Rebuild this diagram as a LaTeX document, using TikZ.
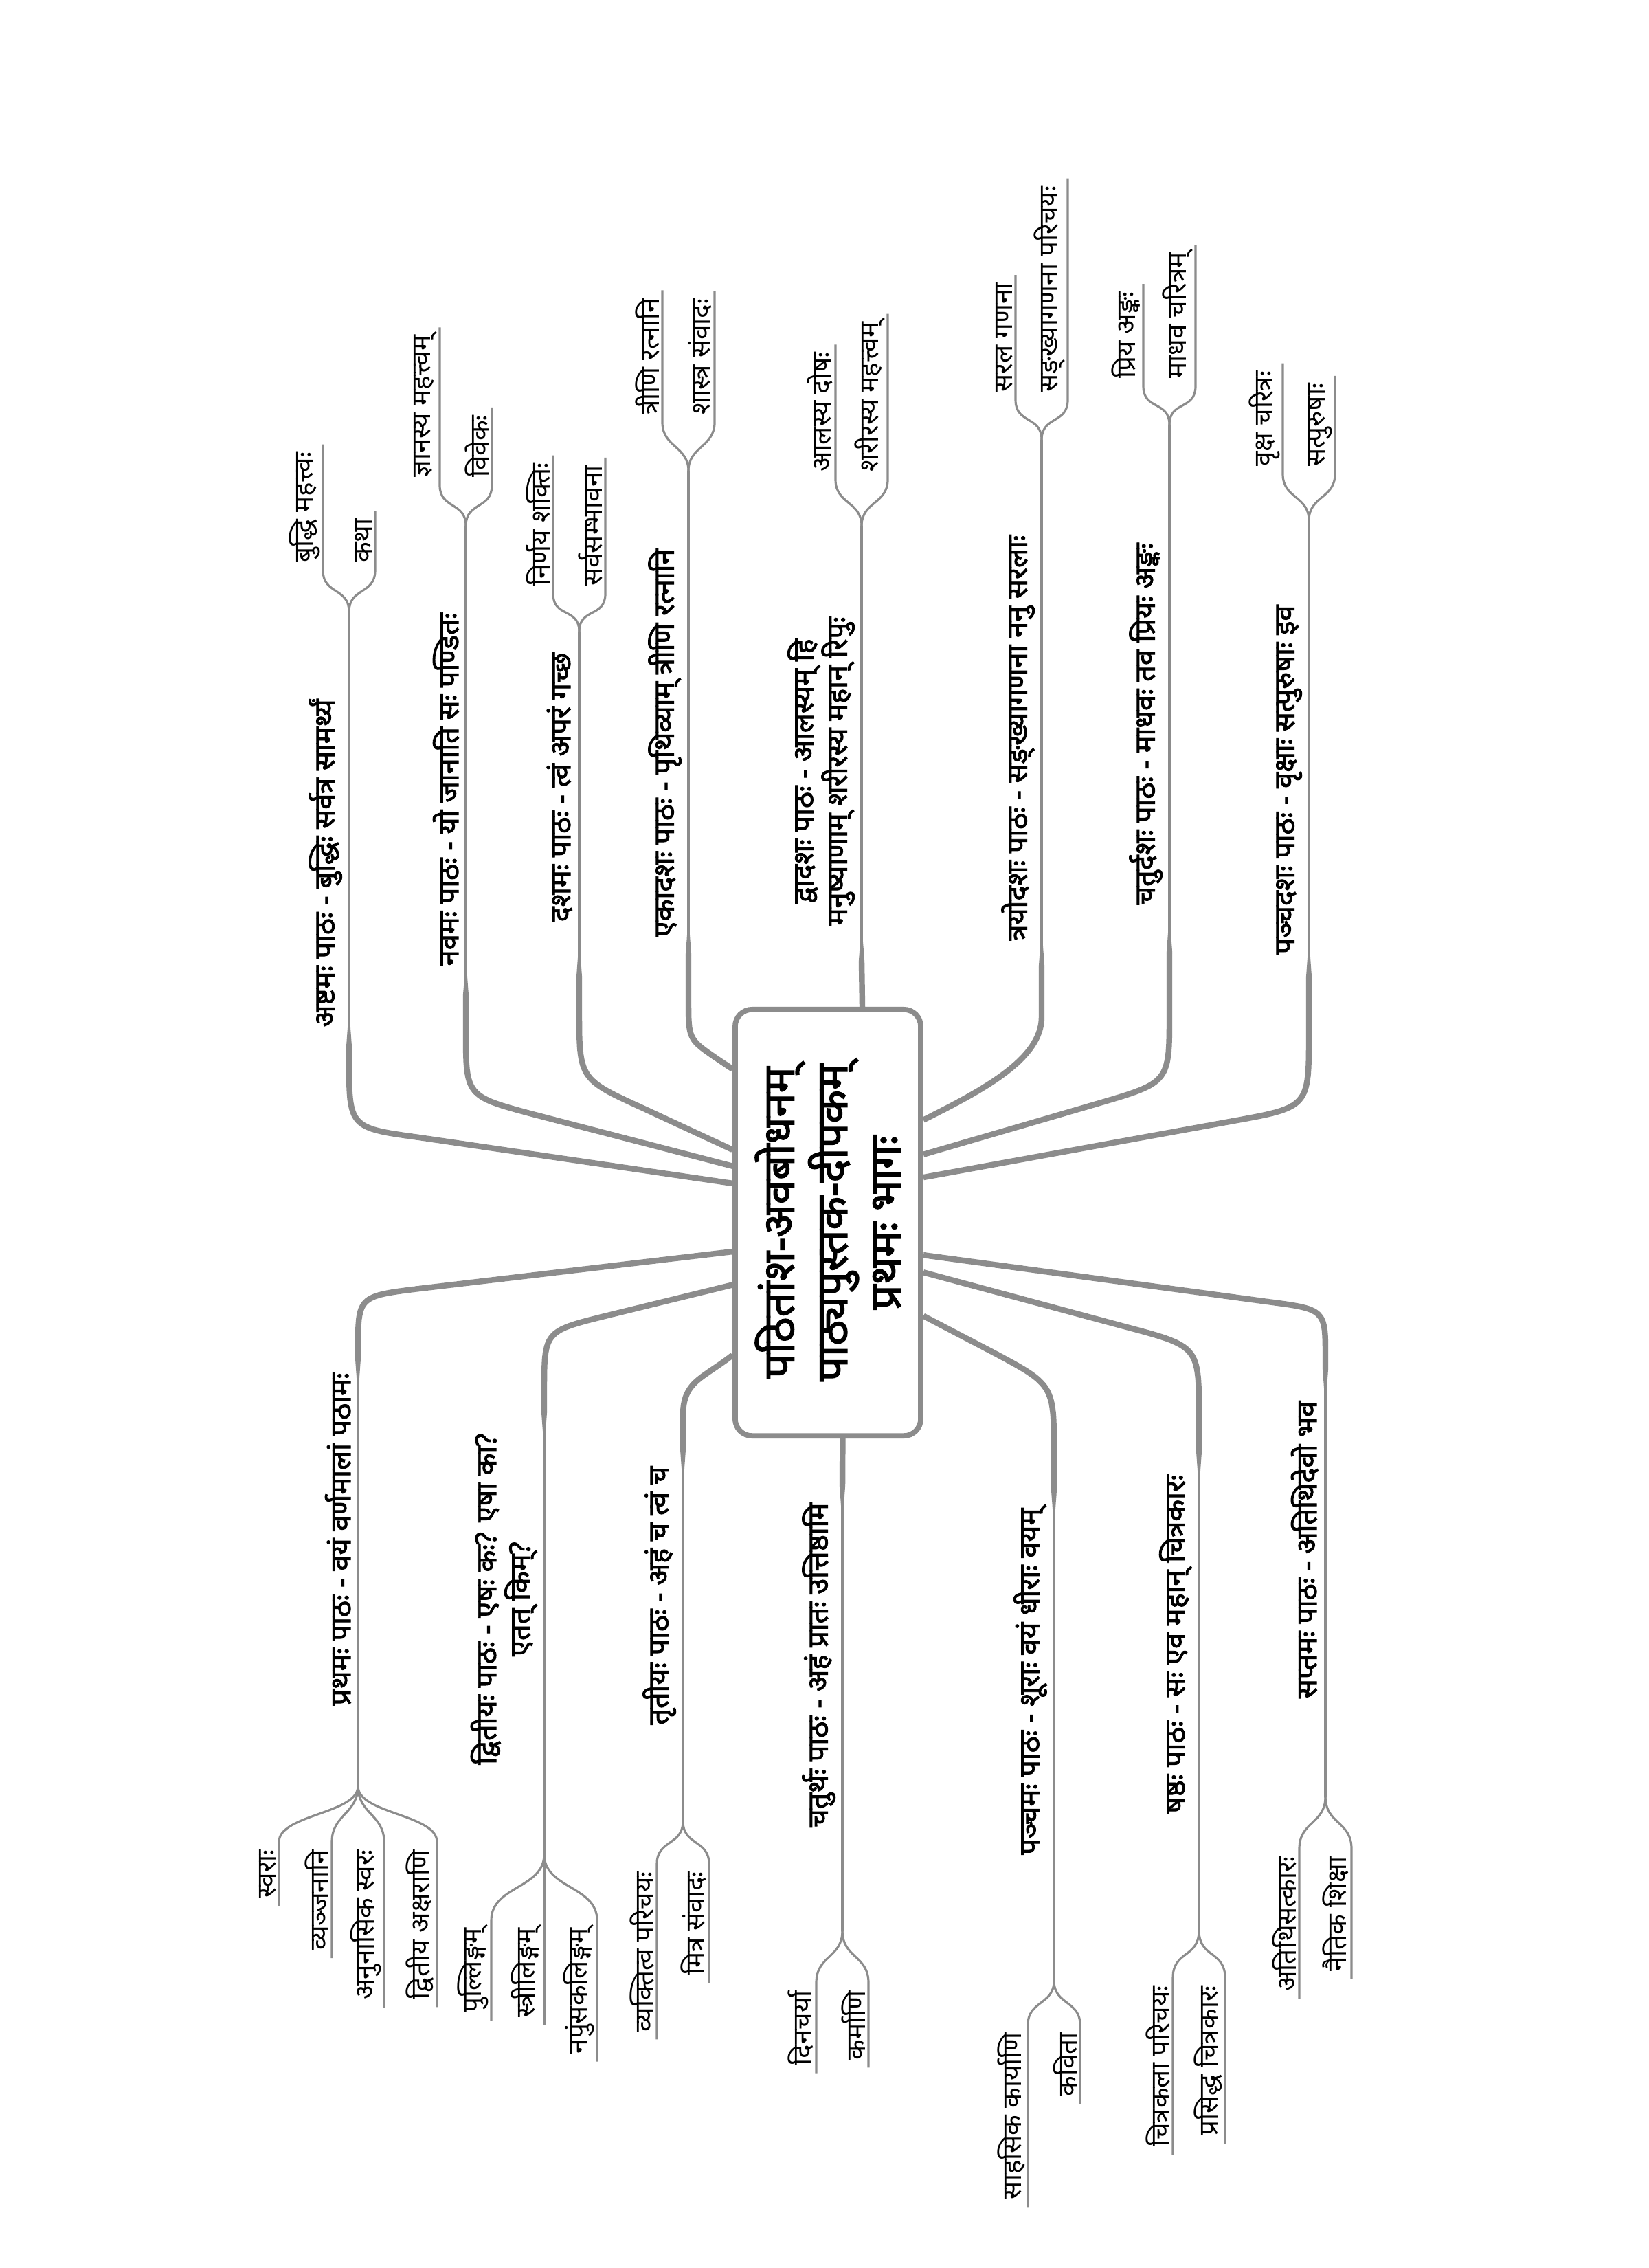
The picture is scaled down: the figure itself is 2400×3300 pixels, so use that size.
\documentclass[tikz,border=0pt]{standalone}
\usepackage{fontspec}
\setmainfont[Script=Devanagari]{Noto Sans}
\newfontfamily\heavy[Script=Devanagari,FakeBold=2.2]{Noto Sans}
\usetikzlibrary{calc,backgrounds}
\definecolor{linegray}{RGB}{140,140,140}

\begin{document}
\begin{tikzpicture}[x=0.01cm, y=-0.01cm,
  rootbox/.style={draw=linegray, line width=2.2pt, rounded corners=7pt, fill=white, rotate=90,
    minimum width=6.2cm, minimum height=2.7cm, align=center,
    font=\heavy\fontsize{18}{22}\selectfont},
  limb/.style={draw=linegray, line width=2.4pt},
  twig/.style={draw=linegray, line width=0.9pt},
  topic/.style={rotate=90, inner xsep=0pt, inner ysep=1pt, align=center,
    font=\heavy\fontsize{11.8}{14}\selectfont},
  leaf/.style={rotate=90, inner xsep=3pt, inner ysep=1pt, font=\fontsize{11}{13}\selectfont}]

\useasboundingbox (0,0) rectangle (2400,3300);

\node[rootbox] (root) at (1205,1779) {पठितांश-अवबोधनम्\\पाठ्यपुस्तक-दीपकम्\\प्रथमः भागः};

\begin{scope}[on background layer]
\fill[white] (0,0) rectangle (2400,3300);
\coordinate (a8) at ($(root.north east)!0.409!(root.north west)$);
\coordinate (a9) at ($(root.north east)!0.369!(root.north west)$);
\coordinate (a10) at ($(root.north east)!0.331!(root.north west)$);
\coordinate (a11) at ($(root.north east)!0.144!(root.north west)$);
\coordinate (a12) at ($(root.north east)!0.68!(root.south east)$);
\coordinate (a13) at ($(root.south east)!0.262!(root.south west)$);
\coordinate (a14) at ($(root.south east)!0.342!(root.south west)$);
\coordinate (a15) at ($(root.south east)!0.395!(root.south west)$);
\coordinate (a1) at ($(root.north east)!0.567!(root.north west)$);
\coordinate (a2) at ($(root.north east)!0.644!(root.north west)$);
\coordinate (a3) at ($(root.north east)!0.807!(root.north west)$);
\coordinate (a4) at ($(root.north west)!0.577!(root.south west)$);
\coordinate (a5) at ($(root.south east)!0.716!(root.south west)$);
\coordinate (a6) at ($(root.south east)!0.615!(root.south west)$);
\coordinate (a7) at ($(root.south east)!0.575!(root.south west)$);
\coordinate (t8) at (508,1525);
\coordinate (t9) at (678,1450);
\coordinate (t10) at (843,1423);
\coordinate (t11) at (1002,1390);
\coordinate (t12) at (1254,1400);
\coordinate (t13) at (1516,1407);
\coordinate (t14) at (1702,1387);
\coordinate (t15) at (1905,1423);
\coordinate (t1) at (521,1975);
\coordinate (t2) at (792,2053);
\coordinate (t3) at (994,2107);
\coordinate (t4) at (1226,2161);
\coordinate (t5) at (1534,2166);
\coordinate (t6) at (1745,2110);
\coordinate (t7) at (1929,1990);
\draw[limb] (a8) -- (610,1655) .. controls (508,1641) .. (508,1540) -- (t8);
\draw[limb] (a9) -- (775,1621) .. controls (678,1595) .. (678,1500) -- (t9);
\draw[limb] (a10) -- (935,1612) .. controls (843,1570) .. (843,1470) -- (t10);
\draw[limb] (a11) -- (1043,1540) .. controls (1002,1512) .. (1002,1455) -- (t11);
\draw[limb] (a12) -- (t12);
\draw[limb] (a13) .. controls +(90,-45) and +(0,60) .. (1516,1480) -- (t13);
\draw[limb] (a14) -- (1600,1605) .. controls (1702,1575) .. (1702,1475) -- (t14);
\draw[limb] (a15) -- (1795,1631) .. controls (1905,1611) .. (1905,1505) -- (t15);
\draw[limb] (a1) -- (610,1875) .. controls (521,1886) .. (521,1965) -- (t1);
\draw[limb] (a2) -- (880,1915) .. controls (792,1937) .. (792,2025) -- (t2);
\draw[limb] (a3) .. controls +(-45,35) and +(0,-50) .. (994,2060) -- (t3);
\draw[limb] (a4) -- (t4);
\draw[limb] (a5) -- (1446,1968) .. controls (1534,2015) .. (1534,2115) -- (t5);
\draw[limb] (a6) -- (1640,1931) .. controls (1745,1959) .. (1745,2060) -- (t6);
\draw[limb] (a7) -- (1845,1894) .. controls (1929,1905) .. (1929,1975) -- (t7);
\foreach \t in {t8,t9,t10,t11,t12,t13,t14,t15}
  \fill[linegray] ([xshift=-1.2pt]\t) -- ([xshift=1.2pt]\t) -- ([yshift=16pt]\t) -- cycle;
\foreach \t in {t1,t2,t3,t4,t5,t6,t7}
  \fill[linegray] ([xshift=-1.2pt]\t) -- ([xshift=1.2pt]\t) -- ([yshift=-16pt]\t) -- cycle;
\end{scope}

% upper side
\coordinate (f8) at (508,890);
\draw[twig] (t8) -- (f8);
\node[topic, anchor=south west] (p8) at (502,1495) {अष्टमः पाठः - बुद्धिः सर्वत्र सामर्थ्यं};
\node[leaf, anchor=south west] (p8a) at (470,830) {बुद्धि महत्त्वः};
\node[leaf, anchor=south west] (p8b) at (546,830) {कथा};
\draw[twig] (f8) .. controls +(0,-35) and +(0,35) .. (p8a.south west) -- (p8a.south east);
\draw[twig] (f8) .. controls +(0,-35) and +(0,35) .. (p8b.south west) -- (p8b.south east);

\coordinate (f9) at (678,765);
\draw[twig] (t9) -- (f9);
\node[topic, anchor=south west] (p9) at (672,1406) {नवमः पाठः - यो जानाति सः पण्डितः};
\node[leaf, anchor=south west] (p9a) at (640,706) {ज्ञानस्य महत्त्वम्};
\node[leaf, anchor=south west] (p9b) at (716,706) {विवेकः};
\draw[twig] (f9) .. controls +(0,-35) and +(0,35) .. (p9a.south west) -- (p9a.south east);
\draw[twig] (f9) .. controls +(0,-35) and +(0,35) .. (p9b.south west) -- (p9b.south east);

\coordinate (f10) at (843,919);
\draw[twig] (t10) -- (f10);
\node[topic, anchor=south west] (p10) at (837,1342) {दशमः पाठः - त्वं अपरं गच्छ};
\node[leaf, anchor=south west] (p10a) at (805,864) {निर्णय शक्तिः};
\node[leaf, anchor=south west] (p10b) at (881,864) {सर्वसम्भावना};
\draw[twig] (f10) .. controls +(0,-35) and +(0,35) .. (p10a.south west) -- (p10a.south east);
\draw[twig] (f10) .. controls +(0,-35) and +(0,35) .. (p10b.south west) -- (p10b.south east);

\coordinate (f11) at (1002,685);
\draw[twig] (t11) -- (f11);
\node[topic, anchor=south west] (p11) at (996,1364) {एकादशः पाठः - पृथिव्याम् त्रीणि रत्नानि};
\node[leaf, anchor=south west] (p11a) at (964,615) {त्रीणि रत्नानि};
\node[leaf, anchor=south west] (p11b) at (1040,615) {शास्त्र संवादः};
\draw[twig] (f11) .. controls +(0,-35) and +(0,35) .. (p11a.south west) -- (p11a.south east);
\draw[twig] (f11) .. controls +(0,-35) and +(0,35) .. (p11b.south west) -- (p11b.south east);

\coordinate (f12) at (1254,765);
\draw[twig] (t12) -- (f12);
\node[topic, anchor=south west] (p12) at (1248,1347) {द्वादशः पाठः - आलस्यम् हि\\मनुष्याणाम् शरीरस्य महान् रिपुः};
\node[leaf, anchor=south west] (p12a) at (1216,698) {आलस्य दोषः};
\node[leaf, anchor=south west] (p12b) at (1292,698) {शरीरस्य महत्त्वम्};
\draw[twig] (f12) .. controls +(0,-35) and +(0,35) .. (p12a.south west) -- (p12a.south east);
\draw[twig] (f12) .. controls +(0,-35) and +(0,35) .. (p12b.south west) -- (p12b.south east);

\coordinate (f13) at (1516,640);
\draw[twig] (t13) -- (f13);
\node[topic, anchor=south west] (p13) at (1510,1369) {त्रयोदशः पाठः - सङ्ख्यागणना ननु सरलाः};
\node[leaf, anchor=south west] (p13a) at (1478,582) {सरल गणना};
\node[leaf, anchor=south west] (p13b) at (1554,582) {सङ्ख्यागणना परिचयः};
\draw[twig] (f13) .. controls +(0,-35) and +(0,35) .. (p13a.south west) -- (p13a.south east);
\draw[twig] (f13) .. controls +(0,-35) and +(0,35) .. (p13b.south west) -- (p13b.south east);

\coordinate (f14) at (1702,618);
\draw[twig] (t14) -- (f14);
\node[topic, anchor=south west] (p14) at (1696,1317) {चतुर्दशः पाठः - माधवः तव प्रियः अङ्कः};
\node[leaf, anchor=south west] (p14a) at (1664,562) {प्रिय अङ्कः};
\node[leaf, anchor=south west] (p14b) at (1740,562) {माधव चरित्रम्};
\draw[twig] (f14) .. controls +(0,-35) and +(0,35) .. (p14a.south west) -- (p14a.south east);
\draw[twig] (f14) .. controls +(0,-35) and +(0,35) .. (p14b.south west) -- (p14b.south east);

\coordinate (f15) at (1905,757);
\draw[twig] (t15) -- (f15);
\node[topic, anchor=south west] (p15) at (1899,1389) {पञ्चदशः पाठः - वृक्षाः सत्पुरुषाः इव};
\node[leaf, anchor=south west] (p15a) at (1867,690) {वृक्ष चरित्रः};
\node[leaf, anchor=south west] (p15b) at (1943,690) {सत्पुरुषाः};
\draw[twig] (f15) .. controls +(0,-35) and +(0,35) .. (p15a.south west) -- (p15a.south east);
\draw[twig] (f15) .. controls +(0,-35) and +(0,35) .. (p15b.south west) -- (p15b.south east);

% lower side
\coordinate (f1) at (521,2599);
\draw[twig] (t1) -- (f1);
\node[topic, anchor=south east] (p1) at (515,1997) {प्रथमः पाठः - वयं वर्णमालां पठामः};
\node[leaf, anchor=south east] (p1a) at (406,2680) {स्वराः};
\node[leaf, anchor=south east] (p1b) at (483,2680) {व्यञ्जनानि};
\node[leaf, anchor=south east] (p1c) at (559,2680) {अनुनासिक स्वरः};
\node[leaf, anchor=south east] (p1d) at (636,2680) {द्वितीय अक्षराणि};
\draw[twig] (f1) .. controls +(0,40) and +(0,-40) .. (p1a.south east) -- (p1a.south west);
\draw[twig] (f1) .. controls +(0,40) and +(0,-40) .. (p1b.south east) -- (p1b.south west);
\draw[twig] (f1) .. controls +(0,40) and +(0,-40) .. (p1c.south east) -- (p1c.south west);
\draw[twig] (f1) .. controls +(0,40) and +(0,-40) .. (p1d.south east) -- (p1d.south west);

\coordinate (f2) at (792,2698);
\draw[twig] (t2) -- (f2);
\node[topic, anchor=south east] (p2) at (786,2085) {द्वितीयः पाठः - एषः कः? एषा का?\\एतत् किम्?};
\node[leaf, anchor=south east] (p2a) at (715,2794) {पुल्लिङ्गम्};
\node[leaf, anchor=south east] (p2b) at (792,2794) {स्त्रीलिङ्गम्};
\node[leaf, anchor=south east] (p2c) at (869,2794) {नपुंसकलिङ्गम्};
\draw[twig] (f2) .. controls +(0,50) and +(0,-50) .. (p2a.south east) -- (p2a.south west);
\draw[twig] (f2) -- (p2b.south east) -- (p2b.south west);
\draw[twig] (f2) .. controls +(0,50) and +(0,-50) .. (p2c.south east) -- (p2c.south west);

\coordinate (f3) at (994,2650);
\draw[twig] (t3) -- (f3);
\node[topic, anchor=south east] (p3) at (988,2133) {तृतीयः पाठः - अहं च त्वं च};
\node[leaf, anchor=south east] (p3a) at (956,2712) {व्यक्तित्व परिचयः};
\node[leaf, anchor=south east] (p3b) at (1032,2712) {मित्र संवादः};
\draw[twig] (f3) .. controls +(0,35) and +(0,-35) .. (p3a.south east) -- (p3a.south west);
\draw[twig] (f3) .. controls +(0,35) and +(0,-35) .. (p3b.south east) -- (p3b.south west);

\coordinate (f4) at (1226,2809);
\draw[twig] (t4) -- (f4);
\node[topic, anchor=south east] (p4) at (1220,2186) {चतुर्थः पाठः - अहं प्रातः उत्तिष्ठामि};
\node[leaf, anchor=south east] (p4a) at (1188,2885) {दिनचर्या};
\node[leaf, anchor=south east] (p4b) at (1264,2885) {कर्माणि};
\draw[twig] (f4) .. controls +(0,40) and +(0,-40) .. (p4a.south east) -- (p4a.south west);
\draw[twig] (f4) .. controls +(0,40) and +(0,-40) .. (p4b.south east) -- (p4b.south west);

\coordinate (f5) at (1534,2882);
\draw[twig] (t5) -- (f5);
\node[topic, anchor=south east] (p5) at (1528,2194) {पञ्चमः पाठः - शूराः वयं धीराः वयम्};
\node[leaf, anchor=south east] (p5a) at (1496,2946) {साहसिक कार्याणि};
\node[leaf, anchor=south east] (p5b) at (1572,2946) {कविता};
\draw[twig] (f5) .. controls +(0,35) and +(0,-35) .. (p5a.south east) -- (p5a.south west);
\draw[twig] (f5) .. controls +(0,35) and +(0,-35) .. (p5b.south east) -- (p5b.south west);

\coordinate (f6) at (1745,2809);
\draw[twig] (t6) -- (f6);
\node[topic, anchor=south east] (p6) at (1739,2145) {षष्ठः पाठः - सः एव महान् चित्रकारः};
\node[leaf, anchor=south east] (p6a) at (1707,2878) {चित्रकला परिचयः};
\node[leaf, anchor=south east] (p6b) at (1783,2878) {प्रसिद्ध चित्रकारः};
\draw[twig] (f6) .. controls +(0,40) and +(0,-40) .. (p6a.south east) -- (p6a.south west);
\draw[twig] (f6) .. controls +(0,40) and +(0,-40) .. (p6b.south east) -- (p6b.south west);

\coordinate (f7) at (1929,2614);
\draw[twig] (t7) -- (f7);
\node[topic, anchor=south east] (p7) at (1923,2038) {सप्तमः पाठः - अतिथिदेवो भव};
\node[leaf, anchor=south east] (p7a) at (1891,2690) {अतिथिसत्कारः};
\node[leaf, anchor=south east] (p7b) at (1967,2690) {नैतिक शिक्षा};
\draw[twig] (f7) .. controls +(0,40) and +(0,-40) .. (p7a.south east) -- (p7a.south west);
\draw[twig] (f7) .. controls +(0,40) and +(0,-40) .. (p7b.south east) -- (p7b.south west);

\end{tikzpicture}
\end{document}
